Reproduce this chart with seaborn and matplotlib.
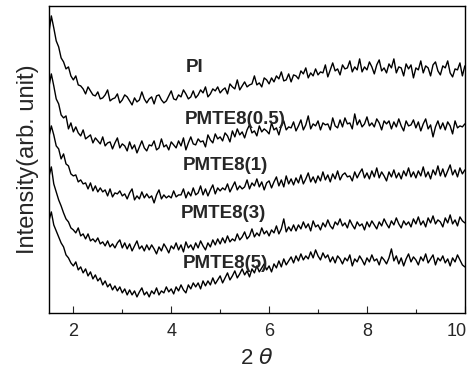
import numpy as np
import pandas as pd
import matplotlib
matplotlib.use("Agg")
import matplotlib.pyplot as plt
import matplotlib.transforms as mtransforms
from matplotlib.ticker import MultipleLocator
import seaborn as sns

# sampling grid in 2theta (deg), values every 0.05
two_theta = np.round(np.arange(1.5, 10.001, 0.05), 2)

pi = [
    280, 297, 285, 272, 266, 255, 251, 244, 246, 237,
    233, 237, 228, 227, 224, 219, 226, 222, 218, 217,
    221, 214, 215, 218, 223, 212, 214, 215, 219, 210,
    213, 218, 216, 212, 208, 215, 211, 213, 221, 214,
    210, 214, 216, 209, 217, 218, 213, 210, 212, 217,
    222, 214, 213, 218, 216, 223, 219, 214, 216, 222,
    215, 218, 223, 220, 226, 216, 219, 224, 222, 226,
    220, 223, 225, 219, 229, 226, 224, 233, 223, 227,
    231, 226, 228, 229, 237, 228, 230, 226, 235, 233,
    229, 235, 231, 237, 234, 241, 232, 233, 239, 231,
    238, 237, 234, 242, 239, 245, 235, 240, 237, 244,
    238, 241, 240, 248, 236, 243, 250, 242, 244, 238,
    248, 244, 245, 252, 241, 246, 243, 254, 241, 246,
    243, 251, 246, 239, 248, 253, 242, 245, 240, 249,
    245, 254, 240, 246, 245, 237, 249, 244, 248, 235,
    245, 243, 252, 240, 247, 245, 237, 248, 251, 242,
    238, 247, 245, 252, 240, 236, 244, 243, 250, 237,
    247,
]

pmte8_05 = [
    226, 239, 227, 214, 209, 198, 195, 197, 184, 190,
    181, 186, 180, 177, 183, 174, 176, 178, 170, 175,
    172, 169, 176, 167, 170, 171, 164, 170, 175, 165,
    169, 167, 162, 171, 164, 168, 160, 166, 172, 165,
    162, 168, 167, 172, 163, 165, 174, 166, 168, 163,
    171, 168, 165, 172, 167, 175, 163, 170, 176, 169,
    168, 174, 171, 172, 166, 178, 173, 170, 179, 174,
    176, 172, 180, 177, 171, 182, 176, 184, 178, 181,
    175, 183, 188, 180, 182, 177, 187, 181, 184, 182,
    179, 190, 183, 185, 178, 187, 192, 183, 186, 185,
    191, 182, 187, 193, 183, 188, 197, 184, 189, 187,
    192, 183, 190, 188, 189, 183, 195, 187, 185, 193,
    186, 195, 189, 190, 184, 199, 188, 193, 186, 189,
    196, 187, 190, 186, 194, 190, 183, 192, 189, 192,
    184, 191, 186, 194, 187, 182, 192, 187, 188, 193,
    185, 191, 182, 189, 194, 184, 188, 176, 186, 192,
    184, 190, 183, 191, 187, 179, 192, 185, 187, 186,
    189,
]

pmte8_1 = [
    176, 187, 178, 167, 164, 154, 159, 149, 147, 139,
    137, 138, 131, 133, 129, 130, 124, 130, 122, 127,
    121, 125, 121, 123, 117, 124, 116, 120, 119, 122,
    117, 119, 114, 120, 124, 113, 117, 114, 121, 115,
    119, 115, 117, 110, 118, 123, 114, 118, 115, 117,
    115, 122, 116, 118, 118, 124, 115, 121, 117, 125,
    118, 120, 127, 118, 124, 117, 123, 128, 119, 125,
    122, 125, 123, 129, 121, 126, 131, 123, 127, 124,
    126, 133, 124, 130, 127, 134, 126, 131, 123, 130,
    132, 125, 131, 136, 127, 133, 126, 137, 129, 134,
    128, 135, 130, 138, 129, 134, 140, 131, 136, 130,
    137, 132, 141, 133, 138, 131, 139, 134, 142, 133,
    138, 140, 136, 137, 132, 141, 135, 140, 144, 135,
    140, 134, 142, 136, 145, 135, 141, 137, 132, 141,
    136, 143, 135, 140, 134, 142, 137, 145, 136, 141,
    135, 142, 137, 146, 136, 141, 134, 143, 138, 147,
    137, 144, 136, 142, 148, 138, 143, 136, 145, 139,
    143,
]

pmte8_3 = [
    136, 146, 129, 121, 113, 107, 100, 94, 91, 85,
    83, 80, 85, 77, 79, 74, 79, 72, 74, 71,
    75, 69, 71, 67, 72, 66, 69, 65, 70, 73,
    65, 70, 64, 69, 62, 67, 72, 64, 67, 62,
    68, 63, 68, 64, 59, 66, 62, 69, 65, 60,
    67, 64, 70, 63, 68, 61, 71, 65, 68, 63,
    70, 65, 72, 67, 63, 70, 66, 73, 68, 74,
    69, 75, 70, 77, 71, 74, 72, 79, 73, 76,
    81, 74, 77, 84, 76, 80, 77, 85, 79, 82,
    77, 83, 80, 87, 79, 84, 94, 81, 86, 82,
    88, 82, 88, 84, 91, 85, 89, 82, 92, 86,
    88, 83, 90, 86, 93, 87, 84, 91, 88, 94,
    87, 90, 85, 93, 88, 84, 91, 87, 89, 83,
    91, 86, 92, 88, 84, 91, 87, 94, 89, 85,
    92, 88, 95, 89, 85, 92, 88, 91, 86, 94,
    89, 96, 88, 92, 86, 95, 90, 97, 89, 93,
    91, 86, 95, 90, 98, 89, 93, 87, 96, 92,
    90,
]

pmte8_5 = [
    92, 101, 88, 82, 76, 70, 66, 58, 55, 50,
    47, 51, 43, 46, 40, 44, 37, 41, 34, 38,
    32, 35, 28, 32, 26, 29, 23, 27, 22, 26,
    20, 24, 18, 23, 18, 22, 16, 21, 25, 18,
    21, 16, 22, 19, 25, 18, 22, 20, 26, 21,
    24, 19, 26, 22, 28, 23, 20, 28, 24, 30,
    26, 30, 24, 32, 27, 32, 28, 35, 29, 33,
    37, 30, 35, 40, 33, 37, 42, 35, 39, 44,
    38, 42, 36, 44, 40, 47, 41, 45, 49, 43,
    47, 41, 49, 45, 52, 46, 54, 48, 52, 56,
    50, 57, 52, 59, 53, 57, 54, 61, 55, 63,
    57, 53, 60, 55, 58, 51, 56, 50, 57, 54,
    49, 55, 52, 58, 47, 54, 51, 57, 53, 48,
    55, 51, 58, 52, 54, 48, 56, 53, 49, 55,
    64, 52, 57, 49, 55, 47, 54, 59, 51, 56,
    53, 48, 56, 52, 59, 50, 54, 58, 48, 55,
    52, 57, 50, 54, 47, 55, 51, 58, 53, 48,
    46,
]

names = ["PI", "PMTE8(0.5)", "PMTE8(1)", "PMTE8(3)", "PMTE8(5)"]
series = [pi, pmte8_05, pmte8_1, pmte8_3, pmte8_5]
# where each label sits (2theta, intensity)
label_x = [4.30, 4.28, 4.24, 4.20, 4.24]
label_y = [245, 193, 147, 99, 49]

df = pd.concat(
    [pd.DataFrame({"two_theta": two_theta, "intensity": s, "sample": n})
     for n, s in zip(names, series)],
    ignore_index=True,
)

sns.set_style("ticks")
plt.rcParams["font.family"] = ["Liberation Sans", "DejaVu Sans"]

fig = plt.figure(figsize=(4.70, 3.69), dpi=100)
ax = fig.add_axes([0.104, 0.152, 0.885, 0.832])

sns.lineplot(data=df, x="two_theta", y="intensity", units="sample",
             estimator=None, color="black", lw=1.0, ax=ax)

for n, lx, ly in zip(names, label_x, label_y):
    ax.text(lx, ly, n, fontsize=13.5, fontweight="bold", va="center", ha="left")

ax.set_xlim(1.5, 10)
ax.set_ylim(0, 307)
ax.set_xticks([2, 4, 6, 8, 10])
ax.xaxis.set_minor_locator(MultipleLocator(1))
ax.set_yticks([])
ax.tick_params(axis="x", which="major", direction="in", length=5, width=0.8,
               labelsize=13, pad=7)
ax.tick_params(axis="x", which="minor", direction="in", length=3, width=0.8)
for sp in ax.spines.values():
    sp.set_visible(True)
    sp.set_linewidth(1.0)
    sp.set_color("black")

# last tick label sits a bit left so it stays inside the figure
last = ax.get_xticklabels()[-1]
last.set_transform(last.get_transform() +
                   mtransforms.ScaledTranslation(-6 / 72, 0, fig.dpi_scale_trans))

ax.set_xlabel("2 $\\theta$", fontsize=16, labelpad=6)
ax.set_ylabel("Intensity(arb. unit)", fontsize=17, labelpad=7)

fig.savefig("out.png", dpi=100)
